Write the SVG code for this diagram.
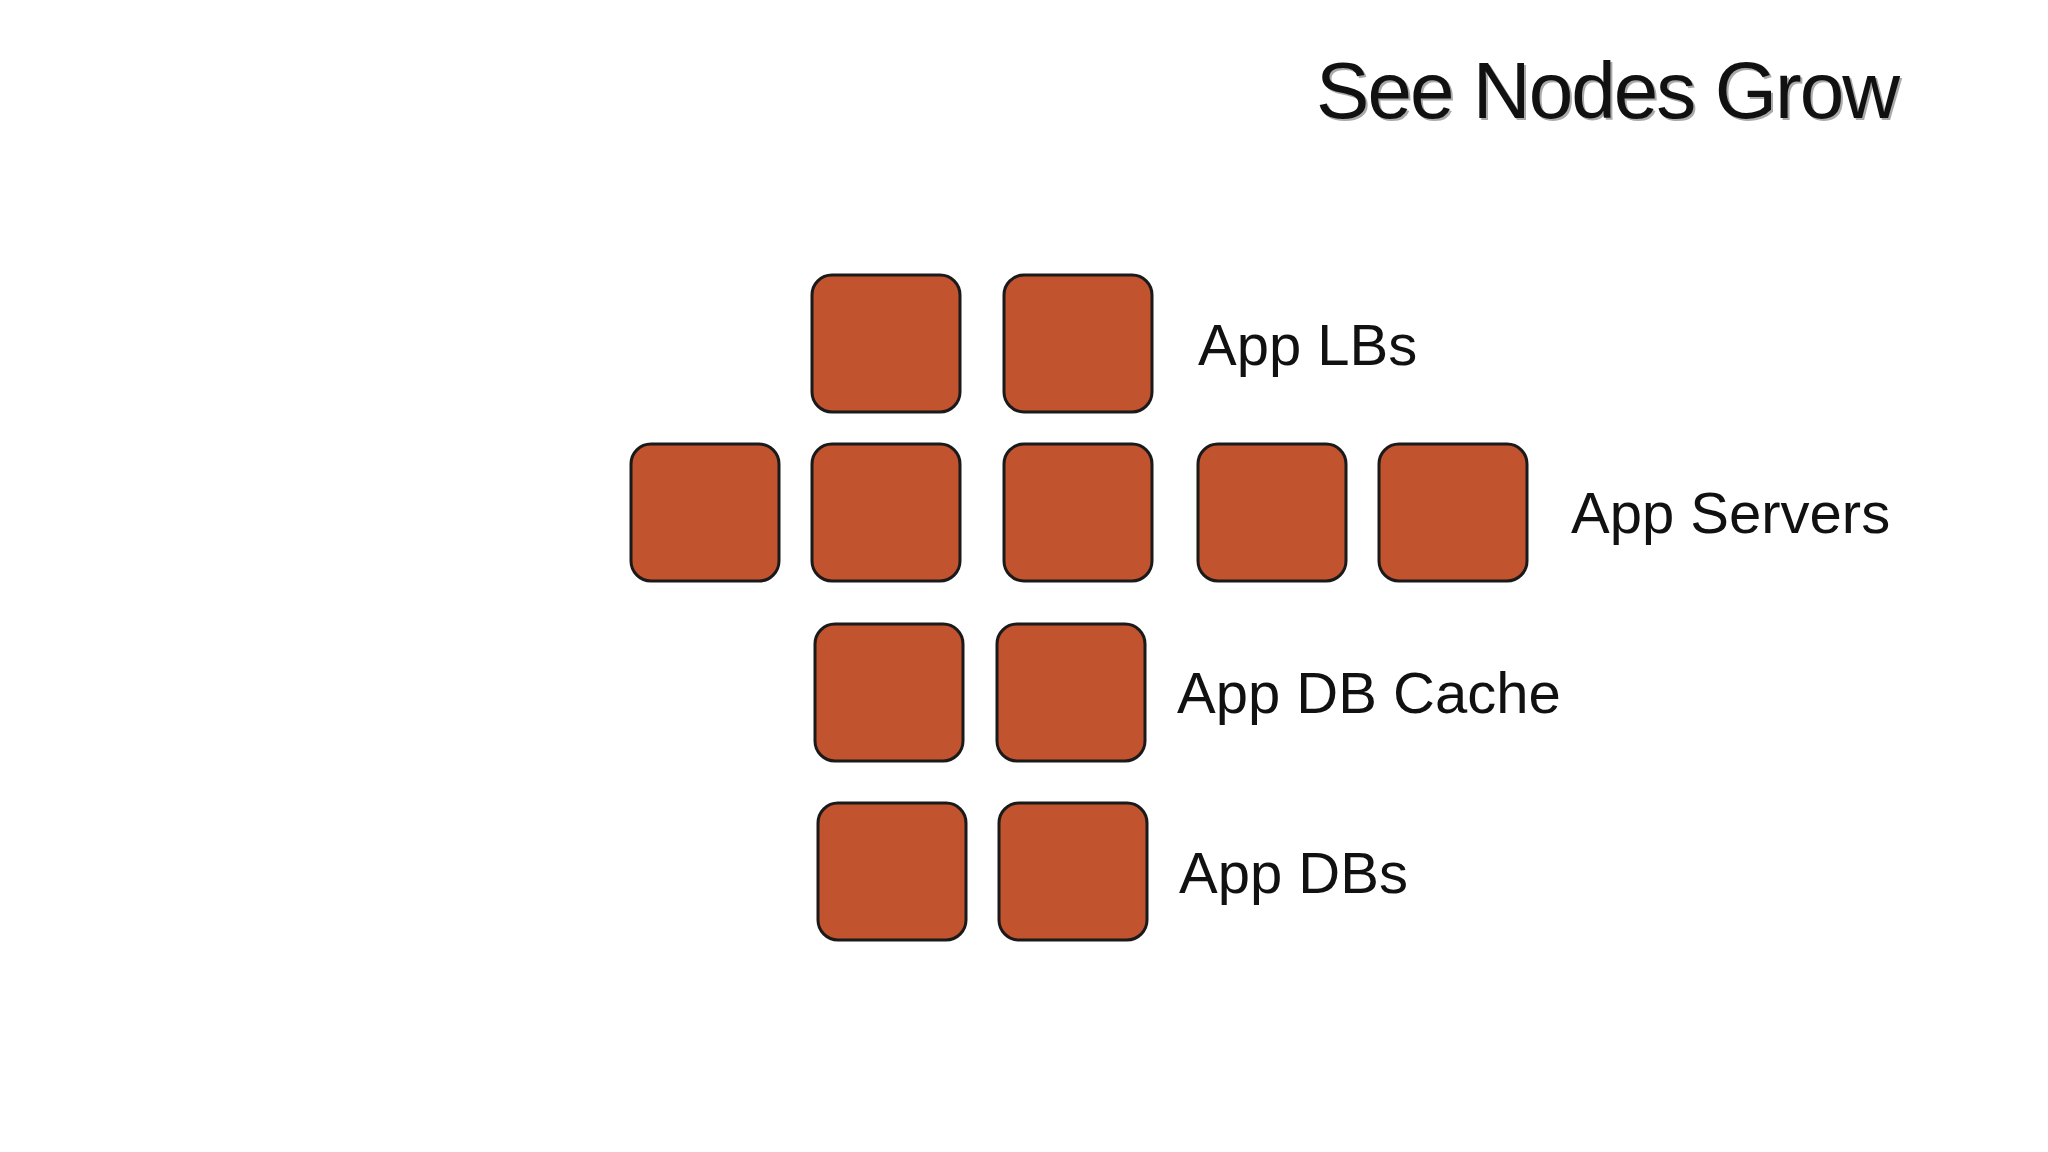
<svg xmlns="http://www.w3.org/2000/svg" width="2048" height="1152" viewBox="0 0 2048 1152">
<style>
.n{fill:#C1532F;stroke:#1a1a1a;stroke-width:3}
.l{font-family:"Liberation Sans",Arial,sans-serif;font-size:58px;fill:#111}
.t{font-family:"Liberation Sans",Arial,sans-serif;font-size:80px;fill:#111}
</style>
<rect width="2048" height="1152" fill="#fff"/>
<text class="t" x="1318" y="120" fill="#bbb" style="fill:#aaa" textLength="584">See Nodes Grow</text>
<text class="t" x="1316" y="118" textLength="584">See Nodes Grow</text>
<g id="lb1"><rect class="n" x="812" y="275" width="148" height="137" rx="20"/></g>
<g id="lb2"><rect class="n" x="1004" y="275" width="148" height="137" rx="20"/></g>
<g id="as1"><rect class="n" x="631" y="444" width="148" height="137" rx="20"/></g>
<g id="as2"><rect class="n" x="812" y="444" width="148" height="137" rx="20"/></g>
<g id="as3"><rect class="n" x="1004" y="444" width="148" height="137" rx="20"/></g>
<g id="as4"><rect class="n" x="1198" y="444" width="148" height="137" rx="20"/></g>
<g id="as5"><rect class="n" x="1379" y="444" width="148" height="137" rx="20"/></g>
<g id="c1"><rect class="n" x="815" y="624" width="148" height="137" rx="20"/></g>
<g id="c2"><rect class="n" x="997" y="624" width="148" height="137" rx="20"/></g>
<g id="d1"><rect class="n" x="818" y="803" width="148" height="137" rx="20"/></g>
<g id="d2"><rect class="n" x="999" y="803" width="148" height="137" rx="20"/></g>
<g id="connectors"></g>
<text class="l" x="1198" y="365">App LBs</text>
<text class="l" x="1571" y="533">App Servers</text>
<text class="l" x="1177" y="713">App DB Cache</text>
<text class="l" x="1179" y="893">App DBs</text>
</svg>
